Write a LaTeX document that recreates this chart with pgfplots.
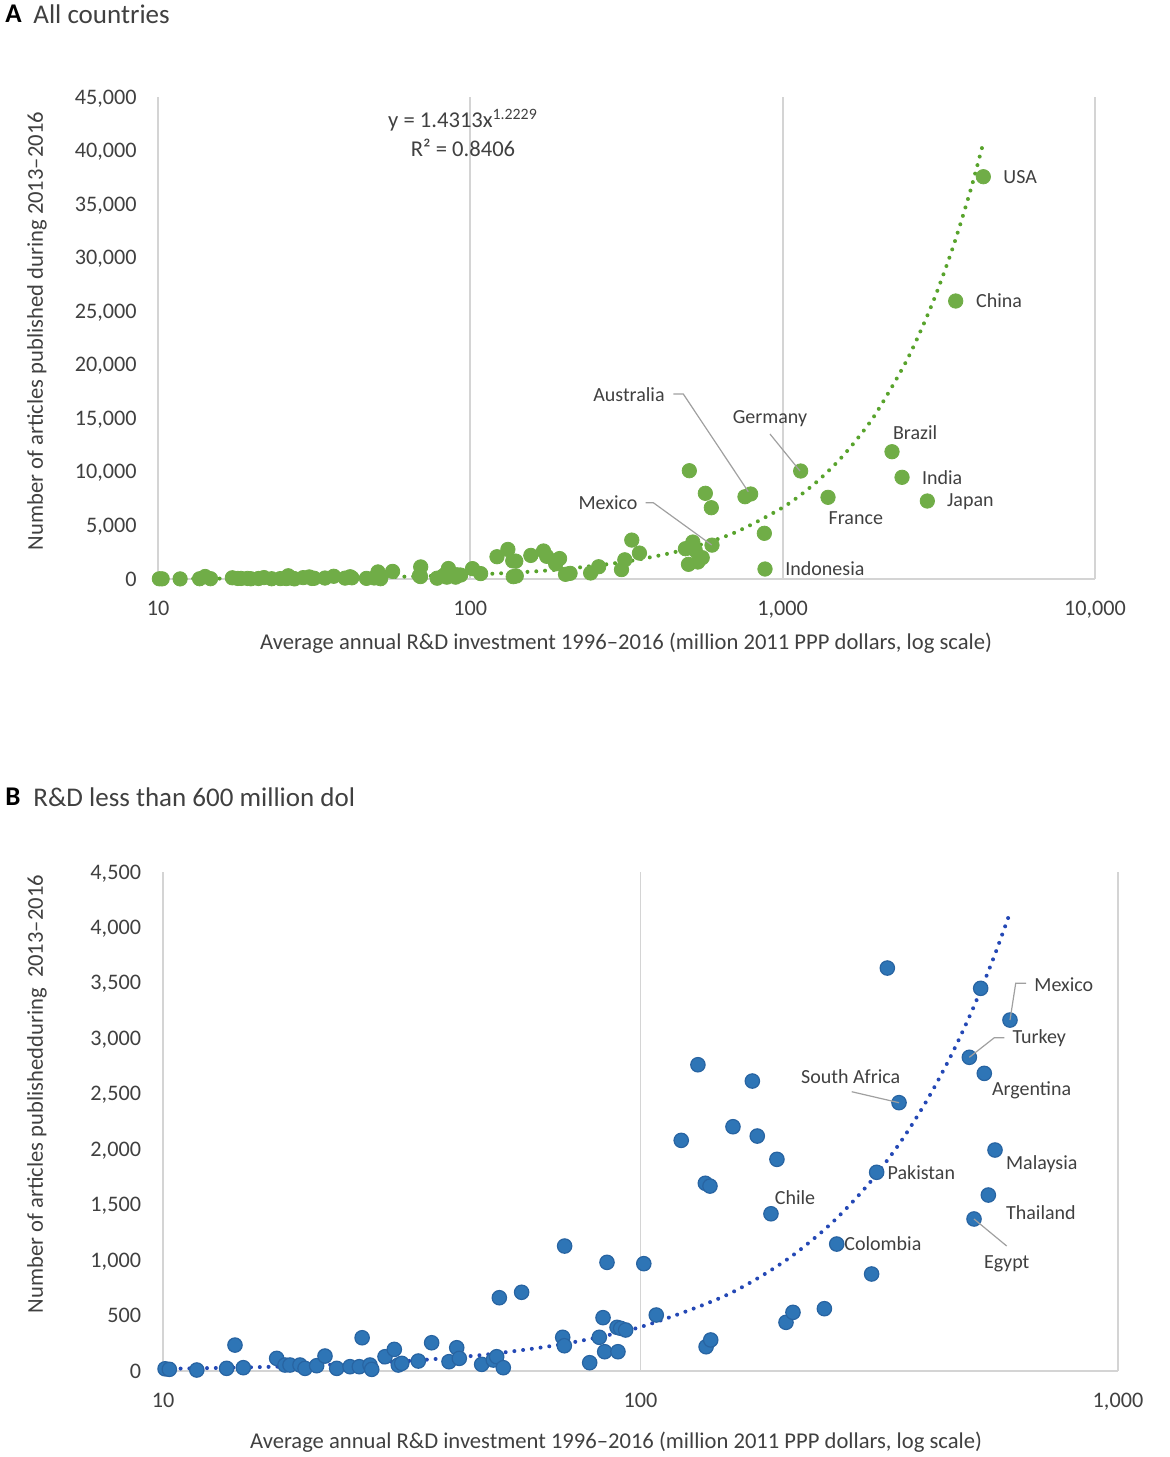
\documentclass[border=0pt]{standalone}
\usepackage{pgfplots}
\pgfplotsset{compat=1.18}
\usepackage{pgfplotstable}
\usepackage{fontspec}
\setmainfont{Carlito}
\definecolor{grn}{HTML}{70AD47}
\definecolor{grnline}{HTML}{58A32C}
\definecolor{blu}{HTML}{2E75B6}
\definecolor{bluedge}{HTML}{2864A2}
\definecolor{bluline}{HTML}{2448B5}
\definecolor{gridc}{HTML}{D4D4D4}
\definecolor{leader}{HTML}{A0A0A0}
\definecolor{txt}{HTML}{404040}

\pgfplotstableread{
x y
10.1 20
10.31 15
11.77 9
13.59 24
14.15 234
14.73 30
17.30 114
18.01 54
18.45 54
19.36 54
19.84 24
20.98 48
21.84 135
23.11 24
24.64 39
25.77 39
26.12 300
27.13 54
27.36 15
29.17 129
30.51 195
31.10 54
31.62 69
34.25 90
36.53 255
39.72 84
41.22 210
41.74 114
46.49 60
49.17 99
49.98 129
50.62 661
51.6 30
56.37 710
69.36 1127
68.72 304
69.26 228
78.28 75
81.98 304
83.47 481
84.14 174
85.08 980
89.3 394
90.9 385
93.1 370
89.7 174
101.6 968
107.9 505
121.7 2080
131.9 2762
136.7 1693
139.8 1668
137.2 219
140.3 280
156.2 2203
171.5 2615
175.6 2119
193.1 1909
187.6 1418
201.7 439
208.6 529
242.7 562
257.6 1145
304.8 875
312.3 1792
328.8 3634
347.9 2420
488.3 2829
499.4 1371
515.7 3451
524.8 2684
535.1 1587
552.6 1993
594 3165
}\smalldata

\pgfplotstableread{
x y
502.5 10111
565.5 8001
591 6656
757.5 7683
790 7936
873.6 4266
877.9 934
1142 10083
1397 7627
2239 11885
2411 9495
2905 7282
3581 25954
4390 37559
}\largedata

\begin{document}
\begin{tikzpicture}
\begin{scope}[x=0.5pt,y=-0.5pt]
\useasboundingbox (0,0) rectangle (1170,1457);
\end{scope}

% ---------------- Panel A ----------------
\begin{axis}[
  xmode=log,
  scale only axis, anchor=south west, clip=false, ymin=0,
  axis x line*=bottom, axis y line*=left,
  axis line style={draw=gridc, line width=0.9pt},
  xmajorgrids, major grid style={draw=gridc, line width=0.9pt},
  major tick length=0pt, minor tick length=0pt, minor xtick={},
  scaled y ticks=false,
  /pgf/number format/1000 sep={,},
  /pgf/number format/assume math mode=true,
  tick label style={font=\fontsize{11.1}{13}\selectfont, text=txt},
  xticklabel style={anchor=base, yshift=-18.2pt},
  yticklabel style={anchor=base east, inner sep=0pt, xshift=-10.5pt, yshift=-3.5pt},
  at={(79pt,-289.5pt)}, width=468.5pt, height=241pt,
  xmin=10, xmax=10000, ymax=45000,
  xtick={10,100,1000,10000}, xticklabels={10,100,{1,000},{10,000}},
  ytick={0,5000,...,45000},
]
\addplot[only marks, mark=*, mark size=3.6pt, mark options={fill=grn, draw=grn}] table[x=x,y=y]{\smalldata};
\addplot[only marks, mark=*, mark size=3.6pt, mark options={fill=grn, draw=grn}] table[x=x,y=y]{\largedata};
\addplot[grnline, line width=2pt, dash pattern=on 0pt off 4.4pt, line cap=round, smooth] coordinates {
(10,23.9) (15,39.26) (20,55.9) (30,91.6) (50,171.2) (70,258.2) (100,399.5) (150,655.5) (200,932.6) (300,1530.8) (400,2179) (500,2860) (700,4313) (1000,6676) (1250,8768) (1500,10958) (1750,13240) (2000,15570) (2500,20453) (3000,25565) (3500,30871) (4000,36352) (4400,40849)
};
\end{axis}

% ---------------- Panel B ----------------
\begin{axis}[
  xmode=log,
  scale only axis, anchor=south west, clip=false, ymin=0,
  axis x line*=bottom, axis y line*=left,
  axis line style={draw=gridc, line width=0.9pt},
  xmajorgrids, major grid style={draw=gridc, line width=0.9pt},
  major tick length=0pt, minor tick length=0pt, minor xtick={},
  scaled y ticks=false,
  /pgf/number format/1000 sep={,},
  /pgf/number format/assume math mode=true,
  tick label style={font=\fontsize{11.1}{13}\selectfont, text=txt},
  xticklabel style={anchor=base, yshift=-18.2pt},
  yticklabel style={anchor=base east, inner sep=0pt, xshift=-10.8pt, yshift=-3.5pt},
  at={(81.5pt,-685.5pt)}, width=477.5pt, height=249.5pt,
  xmin=10, xmax=1000, ymax=4500,
  xtick={10,100,1000}, xticklabels={10,100,{1,000}},
  ytick={0,500,...,4500},
]
\addplot[only marks, mark=*, mark size=3.6pt, mark options={fill=blu, draw=bluedge, line width=0.6pt}] table[x=x,y=y]{\smalldata};
\addplot[bluline, line width=2pt, dash pattern=on 0pt off 4.4pt, line cap=round, smooth] coordinates {
(10,19.2) (15,32.8) (20,47.8) (30,81.5) (40,119.0) (50,159.6) (70,248.4) (100,397) (150,676.6) (200,987.8) (250,1324.6) (300,1683.5) (350,2061.9) (400,2457.8) (450,2869) (500,3295.6) (550,3735.9) (594,4133)
};
\end{axis}

% ---------------- Annotations ----------------
\begin{scope}[x=0.5pt,y=-0.5pt, every node/.style={inner sep=0pt, text=txt, font=\fontsize{10}{12}\selectfont}]
% titles
\node[anchor=west, text=black, font=\fontsize{13.5}{16}\selectfont\bfseries] at (5,14) {A};
\node[anchor=west, font=\fontsize{13.5}{16}\selectfont] at (33,14) {All countries};
\node[anchor=west, text=black, font=\fontsize{13.5}{16}\selectfont\bfseries] at (5,797) {B};
\node[anchor=west, font=\fontsize{13.5}{16}\selectfont] at (33,797) {R\&D less than 600 million dol};
% axis labels
\node[rotate=90, font=\fontsize{11.3}{13}\selectfont] at (37,331) {Number of articles published during 2013–2016};
\node[font=\fontsize{11.3}{13}\selectfont] at (626,643) {Average annual R\&D investment 1996–2016 (million 2011 PPP dollars, log scale)};
\node[rotate=90, font=\fontsize{11.3}{13}\selectfont] at (37,1094) {Number of articles publishedduring\ \ 2013–2016};
\node[font=\fontsize{11.3}{13}\selectfont] at (616,1442) {Average annual R\&D investment 1996–2016 (million 2011 PPP dollars, log scale)};
% equation
\node[font=\fontsize{11.3}{13}\selectfont] at (463,120) {y = 1.4313x\textsuperscript{1.2229}};
\node[font=\fontsize{11.3}{13}\selectfont] at (463,148) {R² = 0.8406};
% panel A labels
\node[anchor=west] at (1003,177) {USA};
\node[anchor=west] at (975.7,301) {China};
\node[anchor=west] at (892.7,433) {Brazil};
\node[anchor=west] at (921.7,478) {India};
\node[anchor=west] at (946.7,502) {Japan};
\node[anchor=west] at (828.3,518) {France};
\node[anchor=west] at (785,569) {Indonesia};
\node at (770,419) {Germany};
\node at (629,395) {Australia};
\node at (608,503) {Mexico};
\draw[leader, line width=0.6pt] (770,434) -- (800,471);
\draw[leader, line width=0.6pt] (673.3,394) -- (683.3,394) -- (748.3,491.7);
\draw[leader, line width=0.6pt] (645.7,502.7) -- (653.3,502.7) -- (711.7,545);
% panel B labels
\node[anchor=west] at (1034,984.3) {Mexico};
\node[anchor=west] at (1012.3,1038.3) {Turkey};
\node[anchor=west] at (991.7,1090.7) {Argentina};
\node at (850.7,1076.7) {South Africa};
\node[anchor=west] at (887.3,1172.3) {Pakistan};
\node[anchor=west] at (1005.7,1164) {Malaysia};
\node[anchor=west] at (1005.7,1212.3) {Thailand};
\node at (1006.7,1263.3) {Egypt};
\node at (795,1197.3) {Chile};
\node[anchor=west] at (844,1244) {Colombia};
\draw[leader, line width=0.6pt] (1026,983.3) -- (1015.7,983.3) -- (1010,1020);
\draw[leader, line width=0.6pt] (1004.3,1037.7) -- (994.3,1037.7) -- (969.3,1057.3);
\draw[leader, line width=0.6pt] (851.7,1091.7) -- (899,1102.7);
\draw[leader, line width=0.6pt] (1006.7,1246) -- (974,1219);
\end{scope}
\end{tikzpicture}
\end{document}
